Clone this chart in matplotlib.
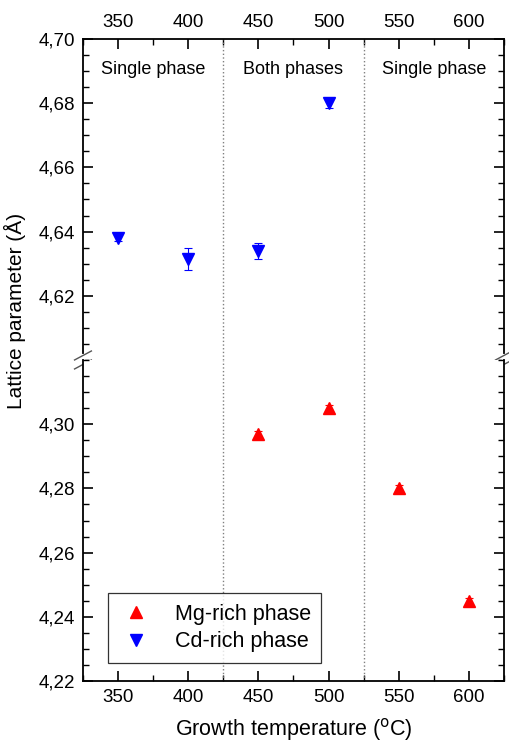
import numpy as np
import matplotlib.pyplot as plt
from matplotlib.ticker import MultipleLocator, FuncFormatter

plt.rcParams['font.family'] = ['Liberation Sans', 'DejaVu Sans']

# data
mg_temp = [450, 500, 550, 600]
mg_a = [4.297, 4.305, 4.280, 4.245]
mg_err = [0.001, 0.001, 0.001, 0.001]

cd_temp = [350, 400, 450, 500]
cd_a = [4.638, 4.6315, 4.634, 4.680]
cd_err = [0.001, 0.0034, 0.0024, 0.0015]

region_labels = ['Single phase', 'Both phases', 'Single phase']
region_centers = [375, 475, 575]
region_bounds = [425, 525]

fig = plt.figure(figsize=(5.09, 7.43), dpi=100)
left, right = 0.163, 0.990
bottom, mid, top = 0.0834, 0.5155, 0.9475
ax_up = fig.add_axes([left, mid, right - left, top - mid])
ax_lo = fig.add_axes([left, bottom, right - left, mid - bottom], sharex=ax_up)

for ax in (ax_up, ax_lo):
    ax.errorbar(mg_temp, mg_a, yerr=mg_err, fmt='^', color='red', ms=8,
                capsize=3, elinewidth=0.8, capthick=0.8, label='Mg-rich phase')
    ax.errorbar(cd_temp, cd_a, yerr=cd_err, fmt='v', color='blue', ms=8,
                capsize=3, elinewidth=0.8, capthick=0.8, label='Cd-rich phase')
    for xb in region_bounds:
        ax.axvline(xb, color='gray', ls=':', lw=1.0)
    ax.set_xlim(325, 625)
    ax.xaxis.set_major_locator(MultipleLocator(50))
    ax.xaxis.set_minor_locator(MultipleLocator(25))
    ax.yaxis.set_major_locator(MultipleLocator(0.02))
    ax.yaxis.set_minor_locator(MultipleLocator(0.005))
    ax.yaxis.set_major_formatter(FuncFormatter(lambda v, p: f'{v:.2f}'.replace('.', ',')))
    ax.tick_params(which='both', direction='in', left=True, right=True, labelsize=13.5)
    ax.tick_params(which='major', length=7, width=1.2, pad=6)
    ax.tick_params(which='minor', length=4, width=1.0)
    for s in ax.spines.values():
        s.set_linewidth(1.3)

ax_up.set_ylim(4.60, 4.70)
ax_lo.set_ylim(4.22, 4.32)
ax_up.yaxis.set_major_locator(plt.FixedLocator([4.62, 4.64, 4.66, 4.68, 4.70]))
ax_lo.yaxis.set_major_locator(plt.FixedLocator([4.22, 4.24, 4.26, 4.28, 4.30]))

ax_up.spines['bottom'].set_visible(False)
ax_lo.spines['top'].set_visible(False)
ax_up.tick_params(which='both', top=True, bottom=False, labeltop=True, labelbottom=False)
ax_lo.tick_params(which='both', top=False, bottom=True)

for xc, txt in zip(region_centers, region_labels):
    ax_up.text(xc, 4.6905, txt, ha='center', va='center', fontsize=13)

# break marks
for xa in (0, 1):
    ax_up.plot([xa, xa], [-0.012, 0.012], transform=ax_up.transAxes,
               color='white', lw=3, clip_on=False, zorder=5)
    for dy in (-0.014, 0.014):
        ax_up.plot([xa - 0.02, xa + 0.02], [dy - 0.014, dy + 0.014],
                   transform=ax_up.transAxes, color='#555555', lw=1.0,
                   clip_on=False, zorder=6)

handles, labels = ax_lo.get_legend_handles_labels()
handles = [h[0] for h in handles]
leg = ax_lo.legend(handles, labels, loc='lower left', bbox_to_anchor=(0.059, 0.056),
                   fontsize=15.5, frameon=True, fancybox=False, edgecolor='black',
                   handletextpad=1.0, borderpad=0.5, handlelength=1.6,
                   labelspacing=0.3, borderaxespad=0)
leg.get_frame().set_linewidth(0.9)

ax_lo.set_xlabel('Growth temperature ($^{\\rm o}$C)', fontsize=15.5, labelpad=7)
fig.text(0.03, 0.581, 'Lattice parameter (Å)', rotation=90,
         ha='center', va='center', fontsize=15)

fig.savefig('out.png', dpi=100)
